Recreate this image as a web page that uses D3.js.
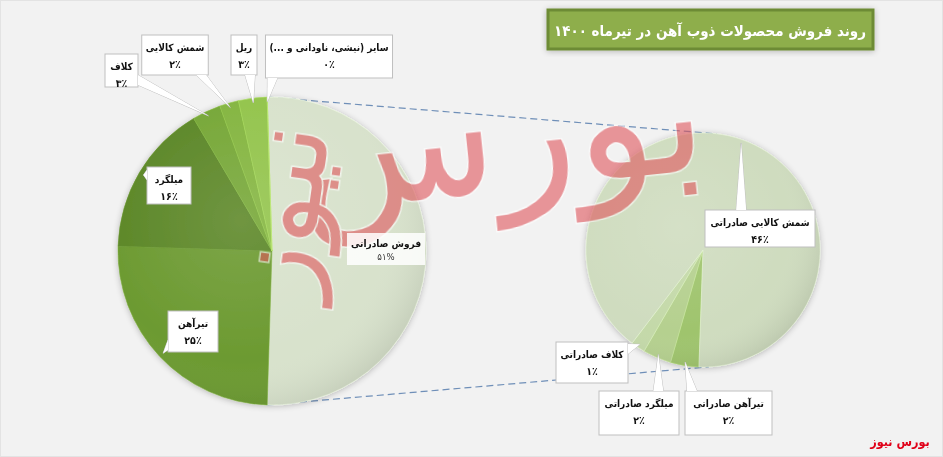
<!DOCTYPE html>
<html><head><meta charset="utf-8">
<script src="https://cdn.jsdelivr.net/npm/d3@7"></script>
<style>
html,body{margin:0;padding:0;background:#f2f2f2;}
svg{display:block;font-family:"DejaVu Sans Condensed","DejaVu Sans",sans-serif;}
</style></head>
<body><svg id="c" width="943" height="457"></svg>
<script>
// ---- data ----
const titleText = "روند فروش محصولات ذوب آهن در تیرماه ۱۴۰۰";
const mainLabels = ["فروش صادراتی","تیرآهن","میلگرد","کلاف","شمش کالایی","ریل","سایر (نیشی، ناودانی و ...)"];
const mainValues = [51,25,16,3,2,3,0];
const exportLabels = ["تیرآهن صادراتی","میلگرد صادراتی","کلاف صادراتی","شمش کالایی صادراتی"];
const exportValues = [2,2,1,46];
const sourceText = "بورس نیوز";

// ---- styles / layout ----
const mainColors = ["#d8e2cc","#6c9a31","#5c8727","#76a737","#84b540","#93c44c","#a4cf60"];
const exportColors = ["#9fc46d","#b5d08f","#c4d9a9","#cfdcbf"];
const L = {cx:272, cy:251, r:154};
const R = {cx:703, cy:250, r:117};
// callout boxes: x, y, w, h, pointer side
const mainBoxes = [
  {x:350, y:233, w:72, h:32, side:null},
  {x:168, y:311, w:50, h:41, side:"l"},
  {x:147, y:167, w:44, h:37, side:"l"},
  {x:105, y:54, w:33, h:33, side:"r"},
  {x:147, y:35, w:56, h:40, side:"b"},
  {x:231, y:35, w:26, h:40, side:"b"},
  {x:266, y:35, w:126, h:43, side:"b"}
];
const exportBoxes = [
  {x:685, y:391, w:87, h:44, side:"t"},
  {x:599, y:391, w:80, h:44, side:"t"},
  {x:556, y:342, w:72, h:41, side:"r"},
  {x:705, y:210, w:110, h:37, side:"t"}
];

const fa = n => String(n).replace(/[0-9]/g, d => "۰۱۲۳۴۵۶۷۸۹"[+d]);
const svg = d3.select("#c");
const defs = svg.append("defs");

svg.append("rect").attr("x",0.5).attr("y",0.5).attr("width",942).attr("height",456)
  .attr("fill","#f2f2f2").attr("stroke","#e3e3e3");

const rg = defs.append("radialGradient").attr("id","shade").attr("cx","40%").attr("cy","40%").attr("r","65%");
rg.append("stop").attr("offset","0%").attr("stop-color","#fff").attr("stop-opacity",0.12);
rg.append("stop").attr("offset","70%").attr("stop-color","#fff").attr("stop-opacity",0);
rg.append("stop").attr("offset","100%").attr("stop-color","#000").attr("stop-opacity",0.09);
const f = defs.append("filter").attr("id","glow").attr("x","-20%").attr("y","-20%").attr("width","140%").attr("height","140%");
f.append("feGaussianBlur").attr("in","SourceAlpha").attr("stdDeviation",3).attr("result","b");
f.append("feOffset").attr("in","b").attr("dx",0).attr("dy",1).attr("result","o");
f.append("feComponentTransfer").attr("in","o").attr("result","s").append("feFuncA").attr("type","linear").attr("slope",0.25);
const fm = f.append("feMerge"); fm.append("feMergeNode").attr("in","s"); fm.append("feMergeNode").attr("in","SourceGraphic");

const total = d3.sum(mainValues);
const s0 = Math.PI/2 - (mainValues[0]/total)*Math.PI;
const mainPie = d3.pie().sort(null).startAngle(s0).endAngle(s0 + 2*Math.PI);
const mainArcs = mainPie(mainValues);
const expStart = 182*Math.PI/180;
const expPie = d3.pie().sort(null).startAngle(expStart).endAngle(expStart + 2*Math.PI);
const expArcs = expPie(exportValues);

const polar = (c, a, rr) => [c.cx + rr*Math.sin(a), c.cy - rr*Math.cos(a)];

const g0 = mainArcs[0];
const conn = [
  [polar(L, g0.startAngle, L.r), polar(R, 0.12, R.r)],
  [polar(L, g0.endAngle, L.r), polar(R, Math.PI-0.05, R.r)]
];
svg.selectAll("line.conn").data(conn).join("line").attr("class","conn")
  .attr("x1",d=>d[0][0]).attr("y1",d=>d[0][1]).attr("x2",d=>d[1][0]).attr("y2",d=>d[1][1])
  .attr("stroke","#6f8fb8").attr("stroke-width",1.2).attr("stroke-dasharray","7,4");

function drawPie(c, arcs, colors){
  const g = svg.append("g").attr("transform",`translate(${c.cx},${c.cy})`).attr("filter","url(#glow)");
  const arc = d3.arc().innerRadius(0).outerRadius(c.r);
  g.selectAll("path").data(arcs).join("path").attr("d",arc)
    .attr("fill",(d,i)=>colors[i]).attr("stroke",(d,i)=>d3.color(colors[i]).brighter(0.3)).attr("stroke-width",0.6);
  g.append("circle").attr("r",c.r).attr("fill","url(#shade)").attr("pointer-events","none");
}
drawPie(L, mainArcs, mainColors);
drawPie(R, expArcs, exportColors);

// watermark
const wm = svg.append("g").attr("opacity",0.6).attr("fill","#e0555c").attr("stroke","#ffffff").attr("stroke-width",3)
  .attr("paint-order","stroke").attr("direction","rtl").attr("font-family","DejaVu Sans");
wm.append("text").attr("transform","translate(505,190) rotate(-6)").attr("text-anchor","middle")
  .attr("font-size",165).text("بورس");
wm.append("text").attr("transform","translate(318,215) rotate(-82)").attr("text-anchor","middle")
  .attr("font-size",110).text("نیوز");

function callout(c, d, box, name, pct, isGroup){
  const g = svg.append("g");
  const cx = box.x + box.w/2;
  const t1 = g.append("text").attr("direction","rtl").attr("text-anchor","middle").attr("x",cx)
    .attr("y",box.y + (isGroup?14:16)).attr("font-size",10).attr("font-weight","bold").attr("fill","#111").text(name);
  const t2 = g.append("text").attr("direction","rtl").attr("text-anchor","middle").attr("x",cx)
    .attr("y",box.y + (isGroup?27:33)).attr("font-size",isGroup?9.5:10.5).attr("font-weight",isGroup?"normal":"bold")
    .attr("fill",isGroup?"#333":"#111").text(isGroup ? fa(pct)+"%" : fa(pct)+"٪");
  const need = Math.max(t1.node().getComputedTextLength(), t2.node().getComputedTextLength()) + 8;
  const w = Math.max(box.w, need);
  const x0 = cx - w/2, y0 = box.y, x1 = x0 + w, y1 = y0 + box.h;
  let tri = null;
  if (box.side){
    const mid = d.value === 0 ? d.startAngle : (d.startAngle + d.endAngle)/2;
    const tip = polar({cx:c.cx, cy:c.cy}, mid, c.r*0.97);
    const hw = 5;
    let b1, b2;
    if (box.side === "b"){ const bx = Math.max(x0+hw+2, Math.min(x1-hw-2, tip[0])); b1=[bx-hw,y1]; b2=[bx+hw,y1]; }
    if (box.side === "t"){ const bx = Math.max(x0+hw+2, Math.min(x1-hw-2, tip[0])); b1=[bx-hw,y0]; b2=[bx+hw,y0]; }
    if (box.side === "l"){ const by = Math.max(y0+hw+2, Math.min(y1-hw-2, tip[1])); b1=[x0,by-hw]; b2=[x0,by+hw]; }
    if (box.side === "r"){ const by = Math.max(y0+hw+2, Math.min(y1-hw-2, tip[1])); b1=[x1,by-hw]; b2=[x1,by+hw]; }
    tri = [b1, tip, b2];
    g.insert("path","text").attr("d",d3.line()(tri)).attr("fill","#fff").attr("stroke","#bfbfbf").attr("stroke-width",1);
  }
  g.insert("rect","text").attr("x",x0).attr("y",y0).attr("width",w).attr("height",box.h)
    .attr("fill",isGroup?"rgba(255,255,255,0.85)":"#fff").attr("stroke",isGroup?"none":"#bfbfbf").attr("stroke-width",1);
  if (tri) g.insert("path","text").attr("d",d3.line()(tri)+"Z").attr("fill","#fff").attr("stroke","none");
}
mainArcs.forEach((d,i)=>callout(L, d, mainBoxes[i], mainLabels[i], mainValues[i], i===0));
expArcs.forEach((d,i)=>callout(R, d, exportBoxes[i], exportLabels[i], exportValues[i], false));

// title
const tg = svg.append("g");
tg.append("rect").attr("x",548).attr("y",10).attr("width",325).attr("height",39)
  .attr("fill","#8eae4c").attr("stroke","#6d8b35").attr("stroke-width",3).attr("filter","url(#glow)");
const tt = tg.append("text").attr("direction","rtl").attr("text-anchor","middle").attr("x",710).attr("y",36)
  .attr("font-size",16).attr("font-weight","bold").attr("fill","#fff").text(titleText);
const tw = tt.node().getComputedTextLength();
if (tw > 312) tt.attr("font-size", 16*312/tw);

svg.append("text").attr("direction","rtl").attr("text-anchor","middle").attr("x",900).attr("y",446)
  .attr("font-size",12.5).attr("font-weight","bold").attr("fill","#e00018").text(sourceText);
</script></body></html>
